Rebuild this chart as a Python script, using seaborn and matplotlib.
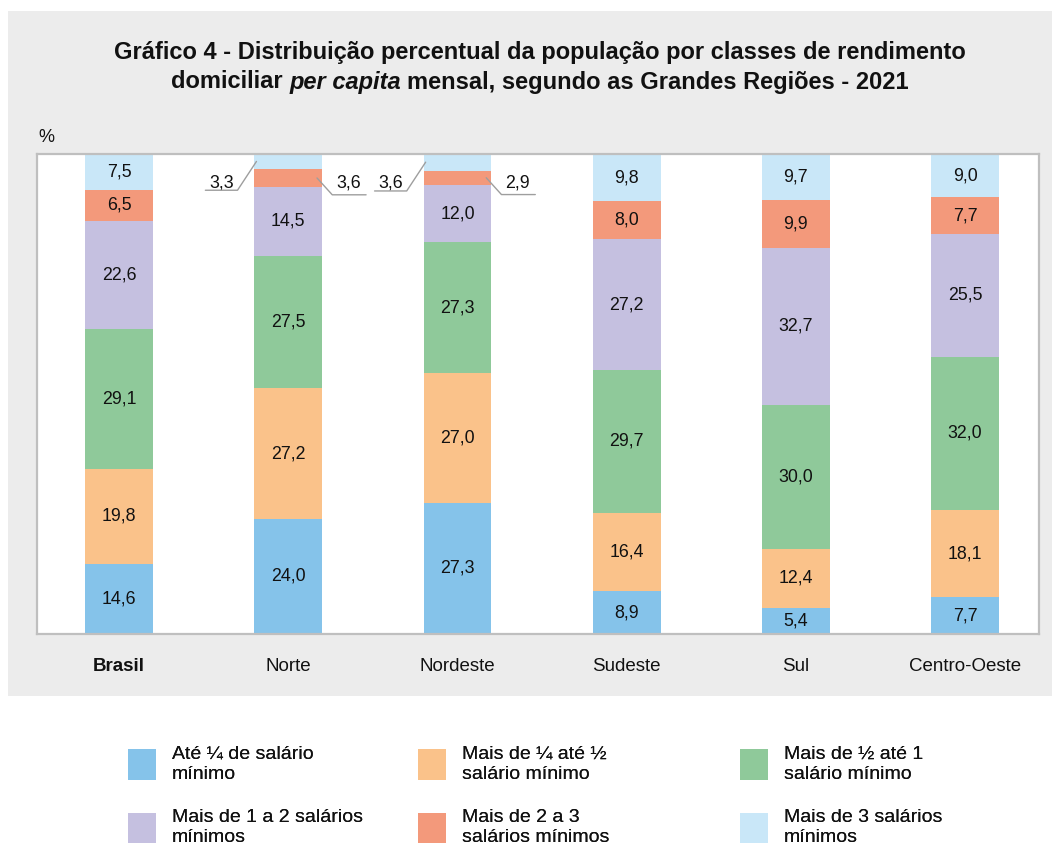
import numpy as np
import pandas as pd
import matplotlib
matplotlib.use("Agg")
import matplotlib.pyplot as plt
import seaborn as sns
from matplotlib.patches import Rectangle

sns.set_theme(style="white")
plt.rcParams['font.family'] = ['Liberation Sans', 'DejaVu Sans']

regions = ["Brasil", "Norte", "Nordeste", "Sudeste", "Sul", "Centro-Oeste"]
series_names = [
    "Até ¼ de salário\nmínimo",
    "Mais de ¼ até ½\nsalário mínimo",
    "Mais de ½ até 1\nsalário mínimo",
    "Mais de 1 a 2 salários\nmínimos",
    "Mais de 2 a 3\nsalários mínimos",
    "Mais de 3 salários\nmínimos",
]
ate_quarto = [14.6, 24.0, 27.3, 8.9, 5.4, 7.7]
quarto_meio = [19.8, 27.2, 27.0, 16.4, 12.4, 18.1]
meio_um = [29.1, 27.5, 27.3, 29.7, 30.0, 32.0]
um_dois = [22.6, 14.5, 12.0, 27.2, 32.7, 25.5]
dois_tres = [6.5, 3.6, 2.9, 8.0, 9.9, 7.7]
mais_tres = [7.5, 3.3, 3.6, 9.8, 9.7, 9.0]
colors = ["#85C3EA", "#FAC28A", "#8FC99A", "#C5C0E0", "#F3997B", "#C9E7F8"]

values = np.array([ate_quarto, quarto_meio, meio_um, um_dois, dois_tres, mais_tres])
cum = np.cumsum(values, axis=0)

fig = plt.figure(figsize=(10.53, 8.52), dpi=100)
fig.patch.set_facecolor("white")
fig.patches.append(Rectangle((8 / 1053, 1 - 696 / 852), (1052 - 8) / 1053, (696 - 11) / 852,
                             transform=fig.transFigure, facecolor="#ECECEC", edgecolor="none", zorder=-10))

ax = fig.add_axes([37 / 1053, 1 - 634 / 852, (1039 - 37) / 1053, (634 - 154) / 852])
ax.set_facecolor("white")

bw = 0.40
for k in range(5, -1, -1):
    df = pd.DataFrame({"regiao": regions, "valor": cum[k]})
    sns.barplot(data=df, x="regiao", y="valor", color=colors[k], saturation=1,
                width=bw, ax=ax, label=series_names[k], edgecolor="none", linewidth=0)
handles, labels = ax.get_legend_handles_labels()
if ax.get_legend() is not None:
    ax.get_legend().remove()

ax.set_xlim(-0.485, 5.437)
ax.set_ylim(0, 100)
ax.set_xlabel("")
ax.set_ylabel("")
ax.set_yticks([])
ax.tick_params(axis="x", length=0, pad=17, labelsize=13.5, colors="#111111")
for lab in ax.get_xticklabels():
    if lab.get_text() == "Brasil":
        lab.set_fontweight("bold")
for sp in ax.spines.values():
    sp.set_color("#BFBFBF")
    sp.set_linewidth(1.6)

fmt = lambda v: f"{v:.1f}".replace(".", ",")
lc = "#9E9E9E"
for i in range(len(regions)):
    for k in range(6):
        v = values[k, i]
        mid = cum[k, i] - v / 2
        if v < 5:
            if k == 5:
                edge = i - bw / 2
                xs = [edge + 0.012, edge - 0.10, edge - 0.29]
                ys = [mid, mid - 6.0, mid - 6.0]
                ax.plot(xs, ys, color=lc, lw=1, clip_on=False, zorder=5)
                ax.text(edge - 0.195, mid - 6.0 + 1.6, fmt(v), ha="center", va="center",
                        fontsize=12.8, color="#111111", clip_on=False)
            else:
                edge = i + bw / 2
                xs = [edge - 0.03, edge + 0.06, edge + 0.26]
                ys = [mid, mid - 3.5, mid - 3.5]
                ax.plot(xs, ys, color=lc, lw=1, clip_on=False, zorder=5)
                ax.text(edge + 0.155, mid - 3.5 + 2.4, fmt(v), ha="center", va="center",
                        fontsize=12.8, color="#111111", clip_on=False)
        else:
            ax.text(i, mid, fmt(v), ha="center", va="center", fontsize=12.8, color="#111111")

# title
TFS = 17
fig.text(540 / 1053, 1 - 53 / 852,
         "Gráfico 4 - Distribuição percentual da população por classes de rendimento",
         ha="center", va="center", fontsize=TFS, fontweight="bold", color="#111111")
renderer = fig.canvas.get_renderer()
parts = [("domiciliar", "normal"), ("per capita", "italic"),
         ("mensal, segundo as Grandes Regiões - 2021", "normal")]
tmp = [fig.text(0, 0, p, fontsize=TFS, fontweight="bold", style=s) for p, s in parts]
widths = [t.get_window_extent(renderer).width for t in tmp]
t_a = fig.text(0, 0, "a a", fontsize=TFS, fontweight="bold")
t_b = fig.text(0, 0, "aa", fontsize=TFS, fontweight="bold")
space = t_a.get_window_extent(renderer).width - t_b.get_window_extent(renderer).width
for t in (t_a, t_b):
    t.remove()
total = sum(widths) + 2 * space
x0 = 540 - total / 2
y2 = 1 - 82 / 852
for t, w in zip(tmp, widths):
    t.set_position((x0 / 1053, y2))
    t.set_va("center")
    t.set_color("#111111")
    x0 += w + space

fig.text(38 / 1053, 1 - 138 / 852, "%", ha="left", va="center", fontsize=13, color="#111111")

# legend
hmap = dict(zip(labels, handles))
col_x = [128, 418, 740]
for c in range(3):
    names = [series_names[c], series_names[c + 3]]
    leg = fig.legend([hmap[n] for n in names], names, loc="upper left",
                     bbox_to_anchor=(col_x[c] / 1053, 1 - 746 / 852), frameon=False,
                     fontsize=14, handlelength=1.45, handleheight=2.05, handletextpad=0.8,
                     labelspacing=1.38, borderpad=0, borderaxespad=0)
    for t in leg.get_texts():
        t.set_linespacing(1.2)
        t.set_color("#111111")
    fig.add_artist(leg)

fig.savefig("out.png", dpi=100, facecolor=fig.get_facecolor())
